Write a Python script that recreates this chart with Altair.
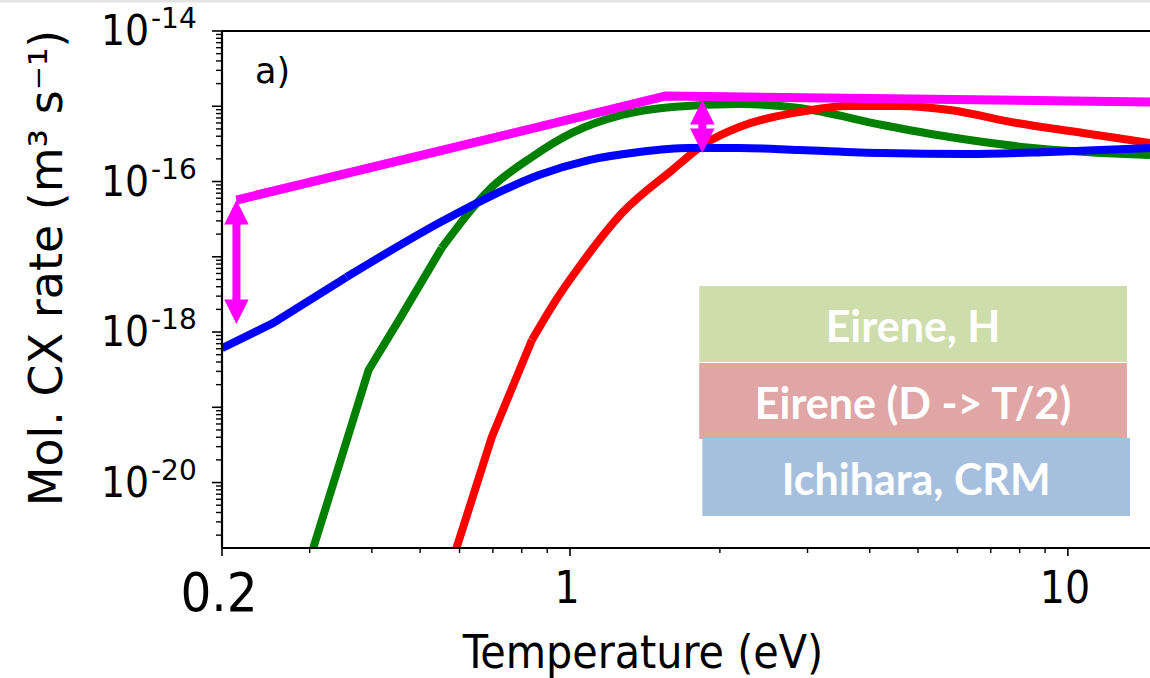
import altair as alt
import pandas as pd

# ---------------- data ----------------
# Ichihara, CRM (blue)
blue_T = [0.2, 0.2537, 0.3558, 0.55, 0.6871, 0.8662, 1.092, 1.377, 1.735, 2.188, 2.889, 4.244, 6.263, 9.201, 14.62]
blue_k = [6.1e-19, 1.32e-18, 5.38e-18, 2.90e-17, 6.22e-17, 1.22e-16, 1.93e-16, 2.47e-16, 2.79e-16, 2.79e-16, 2.62e-16, 2.39e-16, 2.32e-16, 2.47e-16, 2.79e-16]
# Eirene, H (green)
green_T = [0.2956, 0.3054, 0.3477, 0.3940, 0.4571, 0.5526, 0.6871, 0.8386, 1.009, 1.272, 1.604, 2.188, 2.889, 4.244, 5.789, 8.505, 14.62]
green_k = [6.87e-22, 1.39e-21, 2.18e-20, 3.13e-19, 1.58e-18, 1.31e-17, 7.71e-17, 2.12e-16, 4.42e-16, 7.66e-16, 9.77e-16, 1.07e-15, 9.48e-16, 5.64e-16, 3.90e-16, 2.79e-16, 2.25e-16]
# Eirene (D -> T/2) (red)
red_T = [0.5815, 0.5924, 0.6966, 0.8386, 0.9372, 1.0426, 1.272, 1.604, 1.877, 2.188, 2.889, 3.642, 4.592, 5.789, 7.898, 10.72, 14.62]
red_k = [9.33e-22, 1.39e-21, 4.03e-20, 7.83e-19, 2.66e-18, 7.31e-18, 3.81e-17, 1.42e-16, 3.25e-16, 5.30e-16, 8.39e-16, 1.01e-15, 1.01e-15, 8.91e-16, 5.98e-16, 4.42e-16, 3.25e-16]
# upper envelope (magenta)
mag_T = [0.2138, 1.560, 14.62]
mag_k = [5.68e-17, 1.37e-15, 1.14e-15]

# index where each curve stops being piecewise-straight and becomes smooth
blue_smooth_from = 2
green_smooth_from = 5
red_smooth_from = 3

# double arrows (magenta)
arrow_T = [0.2138, 1.844]
arrow_tip_top = [5.68e-17, 1.21e-15]
arrow_tip_bottom = [1.28e-18, 2.39e-16]
arrow_shaft_top = [2.81e-17, 7.19e-16]
arrow_shaft_bottom = [2.51e-18, 4.69e-16]

# legend boxes
box_labels = ["Eirene, H", "Eirene (D -> T/2)", "Ichihara, CRM"]
box_colors = ["#CDDDAC", "#DFA6A5", "#A7BFDE"]
box_T0 = [1.818, 1.818, 1.844]
box_T1 = [13.14, 13.14, 13.33]
box_k_top = [4.08e-18, 3.87e-19, 3.90e-20]
box_k_bot = [3.99e-19, 3.79e-20, 3.59e-21]

# panel label
panel_text = ["a)"]
panel_T = [0.233]
panel_k = [2.85e-15]

# axes
X_DOMAIN = [0.2, 14.62]
Y_DOMAIN = [1.35e-21, 1e-14]
x_major = [0.2, 1, 10]
x_minor = [0.3, 0.4, 0.5, 0.6, 0.7, 0.8, 0.9, 2, 3, 4, 5, 6, 7, 8, 9]
x_labels = ["0.2", "1", "10"]
y_label_exp = [-14, -16, -18, -20]
y_major_exp = [-20, -19, -18, -17, -16, -15, -14]
y_minor_mult = [2, 3, 4, 5, 6, 7, 8, 9]

x_title = "Temperature (eV)"
y_title = "Mol. CX rate (m³ s⁻¹)"

W, H = 928, 517
COND = "DejaVu Sans Condensed, Liberation Sans Narrow, DejaVu Sans"

xs = alt.Scale(type="log", domain=X_DOMAIN, nice=False)
ys = alt.Scale(type="log", domain=Y_DOMAIN, nice=False)


def X(field):
    return alt.X(field, type="quantitative", scale=xs, axis=None)


def Y(field):
    return alt.Y(field, type="quantitative", scale=ys, axis=None)


def segment(T, k, color, width, interp):
    df = pd.DataFrame({"T": T, "k": k})
    return alt.Chart(df).mark_line(
        color=color, strokeWidth=width, clip=True, interpolate=interp,
        strokeCap="butt", strokeJoin="round"
    ).encode(x=X("T"), y=Y("k"))


def curve(T, k, color, width, split):
    lower = segment(T[:split + 1], k[:split + 1], color, width, "linear")
    upper = segment(T[split:], k[split:], color, width, "monotone")
    return alt.layer(lower, upper)


green = curve(green_T, green_k, "#008000", 8, green_smooth_from)
red = curve(red_T, red_k, "#FF0000", 8, red_smooth_from)
blue = curve(blue_T, blue_k, "#0000FF", 8, blue_smooth_from)
mag = segment(mag_T, mag_k, "#FF00FF", 9, "linear")

arrows_df = pd.DataFrame({
    "T": arrow_T, "tip_top": arrow_tip_top, "tip_bottom": arrow_tip_bottom,
    "s_top": arrow_shaft_top, "s_bottom": arrow_shaft_bottom,
})
shaft = alt.Chart(arrows_df).mark_rule(color="#FF00FF", strokeWidth=8).encode(
    x=X("T"), y=Y("s_top"), y2="s_bottom:Q",
)
head_up = alt.Chart(arrows_df).mark_point(
    shape="M0,0L-1,2L1,2Z", size=600, filled=True, opacity=1, color="#FF00FF", strokeWidth=0
).encode(x=X("T"), y=Y("tip_top"))
head_down = alt.Chart(arrows_df).mark_point(
    shape="M0,0L-1,-2L1,-2Z", size=600, filled=True, opacity=1, color="#FF00FF", strokeWidth=0
).encode(x=X("T"), y=Y("tip_bottom"))

boxes_df = pd.DataFrame({
    "label": box_labels, "color": box_colors,
    "T0": box_T0, "T1": box_T1, "ktop": box_k_top, "kbot": box_k_bot,
})
boxes_df["Tm"] = (boxes_df["T0"] * boxes_df["T1"]) ** 0.5
boxes_df["km"] = (boxes_df["ktop"] * boxes_df["kbot"]) ** 0.5

boxes = alt.Chart(boxes_df).mark_rect(opacity=1).encode(
    x=X("T0"), x2="T1:Q", y=Y("ktop"), y2="kbot:Q",
    color=alt.Color("color:N", scale=None, legend=None),
)
box_text = alt.Chart(boxes_df).mark_text(
    font="Lato", fontWeight="bold", fontSize=43, color="white", align="center", baseline="middle", dy=5
).encode(x=X("Tm"), y=Y("km"), text="label:N")

panel = alt.Chart(pd.DataFrame({"T": panel_T, "k": panel_k, "t": panel_text})).mark_text(
    font="DejaVu Sans", fontSize=35, color="black", align="left", baseline="middle"
).encode(x=X("T"), y=Y("k"), text="t:N")

# ---- frame / axes drawn through the scales ----
frame_df = pd.DataFrame({
    "x0": [X_DOMAIN[0], X_DOMAIN[0], X_DOMAIN[0]],
    "x1": [X_DOMAIN[0], X_DOMAIN[1], X_DOMAIN[1]],
    "y0": [Y_DOMAIN[0], Y_DOMAIN[0], Y_DOMAIN[1]],
    "y1": [Y_DOMAIN[1], Y_DOMAIN[0], Y_DOMAIN[1]],
})
frame = alt.Chart(frame_df).mark_rule(color="black", strokeWidth=2.2).encode(
    x=X("x0"), x2="x1:Q", y=Y("y0"), y2="y1:Q",
)

y_major_vals = [10.0 ** e for e in y_major_exp]
y_minor_vals = [m * 10.0 ** e for e in range(-21, -14) for m in y_minor_mult]
y_minor_vals = [v for v in y_minor_vals if Y_DOMAIN[0] <= v <= Y_DOMAIN[1]]

ytick_major = alt.Chart(pd.DataFrame({"v": y_major_vals})).mark_rule(color="black", strokeWidth=1.6).encode(
    y=Y("v"), x=alt.value(-10), x2=alt.value(0),
)
ytick_minor = alt.Chart(pd.DataFrame({"v": y_minor_vals})).mark_rule(color="black", strokeWidth=1.4).encode(
    y=Y("v"), x=alt.value(-6), x2=alt.value(0),
)
xtick_major = alt.Chart(pd.DataFrame({"v": x_major})).mark_rule(color="black", strokeWidth=1.6).encode(
    x=X("v"), y=alt.value(H), y2=alt.value(H + 8),
)
xtick_minor = alt.Chart(pd.DataFrame({"v": x_minor})).mark_rule(color="black", strokeWidth=1.4).encode(
    x=X("v"), y=alt.value(H), y2=alt.value(H + 5),
)

xlab_df = pd.DataFrame({"v": x_major, "t": x_labels})
xlab = alt.Chart(xlab_df).mark_text(
    font=COND, color="black", align="center", baseline="top", dx=-3
).encode(
    x=X("v"), y=alt.value(H + 20), text="t:N",
    size=alt.condition("datum.t == '0.2'", alt.value(54), alt.value(44)),
)

ylab_df = pd.DataFrame({"v": [10.0 ** e for e in y_label_exp], "base": ["10"] * len(y_label_exp),
                        "exp": [str(e) for e in y_label_exp]})
ylab_base = alt.Chart(ylab_df).mark_text(
    font=COND, fontSize=42, color="black", align="right", baseline="middle", dy=1
).encode(x=alt.value(-73), y=Y("v"), text="base:N")
ylab_exp = alt.Chart(ylab_df).mark_text(
    font="DejaVu Sans", fontSize=28, color="black", align="left", baseline="middle", dy=-11
).encode(x=alt.value(-71), y=Y("v"), text="exp:N")

titles_df = pd.DataFrame({"xt": [x_title], "yt": [y_title]})
xtitle = alt.Chart(titles_df).mark_text(
    font=COND, fontSize=46, color="black", align="center", baseline="alphabetic"
).encode(x=alt.value(421), y=alt.value(H + 120), text="xt:N")
ytitle = alt.Chart(titles_df).mark_text(
    font="DejaVu Sans", fontSize=46, color="black", align="center", baseline="alphabetic", angle=270
).encode(x=alt.value(-160), y=alt.value(237), text="yt:N")

gray_band = alt.Chart(titles_df).mark_rule(color="#e3e3e3", strokeWidth=3).encode(
    x=alt.value(-222), x2=alt.value(W), y=alt.value(-30),
)

chart = alt.layer(
    green, red, blue, mag, shaft, head_up, head_down, boxes, box_text, panel,
    frame, ytick_major, ytick_minor, xtick_major, xtick_minor,
    xlab, ylab_base, ylab_exp, xtitle, ytitle, gray_band,
).properties(
    width=W, height=H,
    padding={"left": 222, "top": 31, "right": 0, "bottom": 130},
    autosize=alt.AutoSizeParams(type="none"),
    background="white",
).configure_view(stroke=None)

chart.save("out.html", embed_options={"renderer": "svg", "actions": False})
